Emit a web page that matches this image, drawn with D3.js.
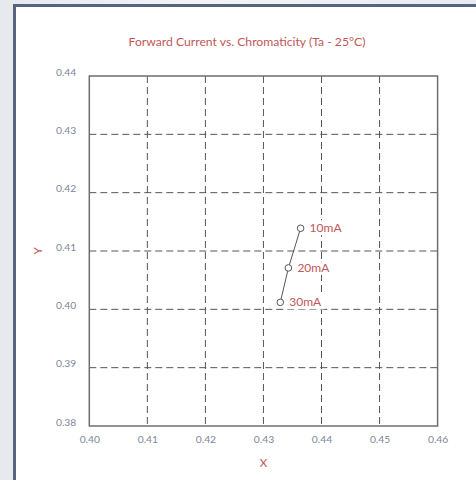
<!DOCTYPE html>
<html>
<head>
<meta charset="utf-8">
<script src="https://cdn.jsdelivr.net/npm/d3@7"></script>
<style>
  html, body { margin: 0; padding: 0; }
  body { width: 476px; height: 480px; overflow: hidden;
    background: linear-gradient(90deg, #e6eaee 0%, #f1f3f5 40%, #e9ecef 100%); }
  svg { display: block; }
  text { font-family: Lato, "Open Sans", sans-serif; }
</style>
</head>
<body>
<svg width="476" height="480"></svg>
<script>
// chart values
const currents = ["10mA", "20mA", "30mA"];
const chromX = [0.4364, 0.4343, 0.4329];
const chromY = [0.4139, 0.4071, 0.4012];
const xTicks = [0.40, 0.41, 0.42, 0.43, 0.44, 0.45, 0.46];
const yTicks = [0.38, 0.39, 0.40, 0.41, 0.42, 0.43, 0.44];

const svg = d3.select("svg");
const margin = {top: 76, right: 38.4, bottom: 54, left: 89.3};
const width = 476 - margin.left - margin.right;
const height = 480 - margin.top - margin.bottom;

// card
svg.append("rect")
  .attr("x", 14.5).attr("y", 5.5)
  .attr("width", 470).attr("height", 480)
  .attr("fill", "#fff");
svg.append("path")
  .attr("d", "M14.5,490 V5.5 H480")
  .attr("fill", "none")
  .attr("stroke", "#56657d")
  .attr("stroke-width", 3);

const x = d3.scaleLinear().domain([0.40, 0.46]).range([0, width]);
const y = d3.scaleLinear().domain([0.38, 0.44]).range([height, 0]);

const g = svg.append("g")
  .attr("transform", `translate(${margin.left},${margin.top})`);

// dashed grid
g.selectAll(".vgrid")
  .data(xTicks.slice(1, -1))
  .enter().append("line")
  .attr("class", "vgrid")
  .attr("x1", d => x(d)).attr("x2", d => x(d))
  .attr("y1", 0).attr("y2", height)
  .attr("stroke", "#555")
  .attr("stroke-dasharray", "7,4");

g.selectAll(".hgrid")
  .data(yTicks.slice(1, -1))
  .enter().append("line")
  .attr("class", "hgrid")
  .attr("x1", 0).attr("x2", width)
  .attr("y1", d => y(d)).attr("y2", d => y(d))
  .attr("stroke", "#555")
  .attr("stroke-dasharray", "7,4");

// frame
g.append("rect")
  .attr("width", width).attr("height", height)
  .attr("fill", "none")
  .attr("stroke", "#6e6e6e")
  .attr("stroke-width", 1.5);

// axes (labels only)
const xAxis = g.append("g")
  .attr("transform", `translate(0,${height})`)
  .call(d3.axisBottom(x).tickValues(xTicks).tickFormat(d3.format(".2f")).tickSize(0).tickPadding(10));
const yAxis = g.append("g")
  .call(d3.axisLeft(y).tickValues(yTicks).tickFormat(d3.format(".2f")).tickSize(0).tickPadding(13));
[xAxis, yAxis].forEach(a => {
  a.select(".domain").remove();
  a.selectAll("text")
    .attr("fill", "#7d8697")
    .style("font-size", "10.3px")
    .style("font-family", "Lato, 'Open Sans', sans-serif");
});
yAxis.selectAll("text").attr("dy", "-0.08em");

// data
const pts = currents.map((c, i) => ({label: c, cx: chromX[i], cy: chromY[i]}));

g.append("path")
  .datum(pts)
  .attr("fill", "none")
  .attr("stroke", "#555")
  .attr("d", d3.line().x(d => x(d.cx)).y(d => y(d.cy)));

const lab = g.selectAll(".lab")
  .data(pts)
  .enter().append("g")
  .attr("class", "lab")
  .attr("transform", d => `translate(${x(d.cx) + 9},${y(d.cy)})`);
lab.append("rect")
  .attr("x", -2).attr("y", -8)
  .attr("width", 37).attr("height", 15)
  .attr("fill", "#fff");
lab.append("text")
  .attr("y", 4)
  .attr("fill", "#c0575a")
  .style("font-size", "12px")
  .text(d => d.label);

g.selectAll(".pt")
  .data(pts)
  .enter().append("circle")
  .attr("class", "pt")
  .attr("cx", d => x(d.cx))
  .attr("cy", d => y(d.cy))
  .attr("r", 3.3)
  .attr("fill", "#fff")
  .attr("stroke", "#555");

// titles
svg.append("text")
  .attr("x", 247).attr("y", 46)
  .attr("text-anchor", "middle")
  .attr("fill", "#c0575a")
  .style("font-size", "12.2px")
  .text("Forward Current vs. Chromaticity (Ta - 25°C)");

svg.append("text")
  .attr("x", margin.left + width / 2).attr("y", 467)
  .attr("text-anchor", "middle")
  .attr("fill", "#c0575a")
  .style("font-size", "11.5px")
  .text("X");

svg.append("text")
  .attr("transform", "translate(42,251) rotate(-90)")
  .attr("text-anchor", "middle")
  .attr("fill", "#c0575a")
  .style("font-size", "11.5px")
  .text("Y");
</script>
</body>
</html>
